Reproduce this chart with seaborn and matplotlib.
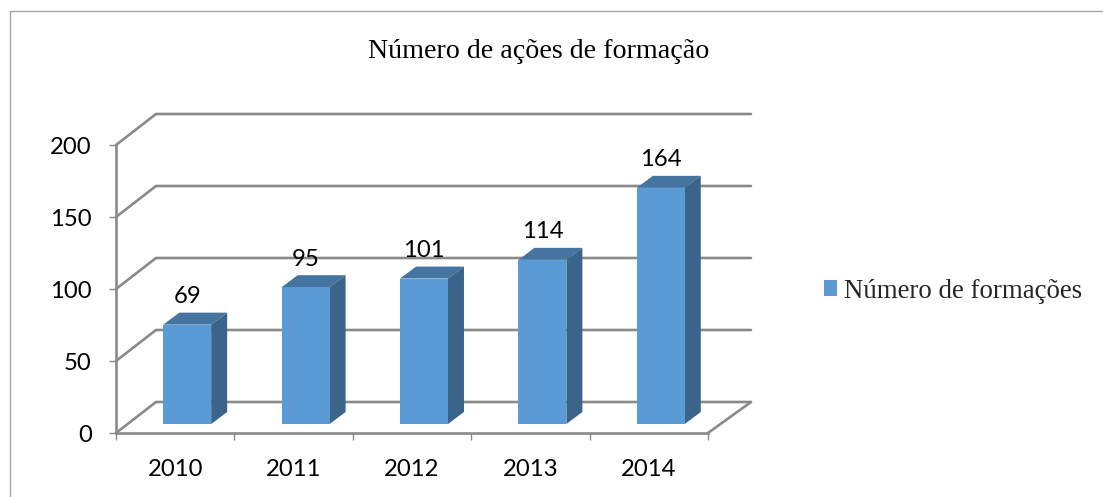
import numpy as np
import pandas as pd
import seaborn as sns
import matplotlib
matplotlib.use('Agg')
import matplotlib.pyplot as plt
from matplotlib.lines import Line2D
from matplotlib.patches import Polygon
from matplotlib.transforms import Affine2D, IdentityTransform

# values
years = ['2010', '2011', '2012', '2013', '2014']
formacoes = [69, 95, 101, 114, 164]
y_ticks = [0, 50, 100, 150, 200]
title_text = 'Número de ações de formação'
legend_text = 'Número de formações'

W, H = 1103, 497
GRAY = '#8a8a8a'
FRONT = '#5b9bd5'
TOP = '#44749f'
SIDE = '#3a6489'
NUM_FONT = 'Lato'
SERIF = 'Liberation Serif'
NUM_SIZE = 17.2
LINE_W = 1.9

sns.set_theme(style='white')
plt.rcParams['font.family'] = NUM_FONT

fig = plt.figure(figsize=(W / 100, H / 100), dpi=100)
# the axes is the front plane of the fake 3d box
ax = fig.add_axes([116 / W, (H - 433) / H, 592 / W, 288 / H])

df = pd.DataFrame({'ano': years, 'n': formacoes})
sns.barplot(data=df, x='ano', y='n', color=FRONT, saturation=1, width=0.405,
            linewidth=0, label=legend_text, ax=ax, zorder=3)
ax.set_xlim(-0.5, 4.5)
ax.set_ylim(0, 200)
ax.set_xlabel('')
ax.set_ylabel('')
ax.set_yticks(y_ticks)
ax.set_xticks(np.arange(-0.5, 5, 1), minor=True)
ax.tick_params(axis='x', which='major', length=0, pad=18.5, labelsize=NUM_SIZE, labelcolor='black')
ax.tick_params(axis='x', which='minor', length=5, width=1, color=GRAY, bottom=True)
ax.tick_params(axis='y', length=5, width=1, color=GRAY, left=True, pad=12.5, labelsize=NUM_SIZE, labelcolor='black')
sns.despine(ax=ax)
for side in ['left', 'bottom']:
    ax.spines[side].set_color(GRAY)
    ax.spines[side].set_linewidth(LINE_W)

fig.canvas.draw()

# back wall and floor lines
depth_x, depth_y = 40, 31
x0 = ax.transData.transform((-0.5, 0))[0]
x1 = ax.transData.transform((4.5, 0))[0]
for v in y_ticks:
    y = ax.transData.transform((0, v))[1]
    ax.add_line(Line2D([x0, x0 + depth_x, 751], [y, y + depth_y, y + depth_y], color=GRAY, lw=LINE_W,
                       transform=IdentityTransform(), clip_on=False, zorder=1))
y = ax.transData.transform((0, 0))[1]
ax.add_line(Line2D([x1, 751], [y, y + depth_y], color=GRAY, lw=LINE_W,
                   transform=IdentityTransform(), clip_on=False, zorder=1))

# push bars into the box and add the top and side faces
shift = Affine2D().translate(12, 9)
bar_dx, bar_dy = 16, 12
for bar, v in zip(ax.containers[0], formacoes):
    bar.set_transform(ax.transData + shift)
    bar.set_clip_on(False)
    (xa, ya), (xb, yb) = (ax.transData + shift).transform(
        [(bar.get_x(), 0), (bar.get_x() + bar.get_width(), v)])
    ax.add_patch(Polygon([(xa, yb), (xb, yb), (xb + bar_dx, yb + bar_dy), (xa + bar_dx, yb + bar_dy)],
                         facecolor=TOP, edgecolor='none', transform=IdentityTransform(),
                         clip_on=False, zorder=2.5))
    ax.add_patch(Polygon([(xb, ya), (xb, yb), (xb + bar_dx, yb + bar_dy), (xb + bar_dx, ya + bar_dy)],
                         facecolor=SIDE, edgecolor='none', transform=IdentityTransform(),
                         clip_on=False, zorder=2.5))

for i, v in enumerate(formacoes):
    ax.annotate(str(v), (i, v), xytext=(12, 37), textcoords='offset pixels', ha='center', va='center',
                fontsize=NUM_SIZE, color='black', annotation_clip=False, zorder=5)

fig.text(539 / W, (H - 52) / H, title_text, family=SERIF, fontsize=20.2, color='black',
         ha='center', va='center')

leg = ax.legend(loc='center left', bbox_to_anchor=(824 / W, (H - 291) / H), bbox_transform=fig.transFigure,
                frameon=False, borderpad=0, borderaxespad=0,
                handlelength=0.5, handleheight=0.5, handletextpad=0.25, prop={'family': SERIF, 'size': 19.4})

# outer border of the chart area
fig.add_artist(Line2D([9.5 / W, 9.5 / W, 1], [0, (H - 11) / H, (H - 11) / H], color='#a6a6a6', lw=1,
                      transform=fig.transFigure))

fig.savefig('out.png', dpi=100)
